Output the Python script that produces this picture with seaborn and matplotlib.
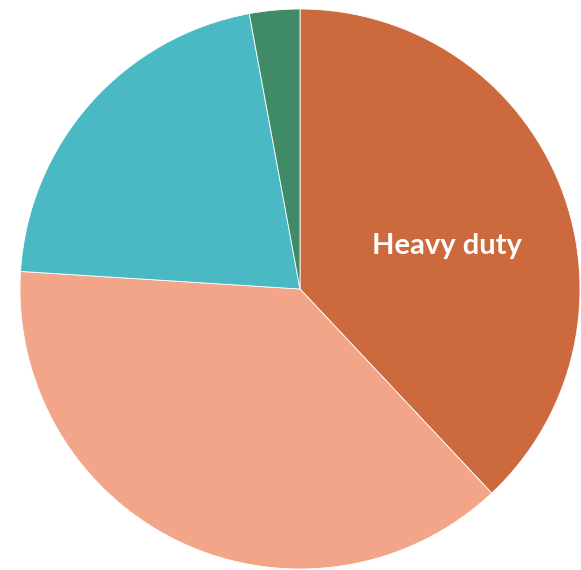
import seaborn as sns
import matplotlib
matplotlib.use("Agg")
from matplotlib import pyplot as plt

# slice data, clockwise from the top
categories = ["Heavy duty", "Light duty", "Medium duty", "Other"]
shares = [38.0, 38.0, 21.1, 2.9]
shown_labels = ["Heavy duty", "", "", ""]
colors = sns.color_palette(["#CD6A3D", "#F2A588", "#4BB9C4", "#3F8B68"])

sns.set_style("white")
plt.rcParams['font.family'] = ['Lato', 'DejaVu Sans']

fig = plt.figure(figsize=(5.81, 5.70), dpi=100)
ax = fig.add_axes([20 / 581, 1 / 570, 560 / 581, 560 / 570])

wedges, _ = ax.pie(shares, colors=colors, startangle=90, counterclock=False,
                   radius=1, wedgeprops={'edgecolor': 'white', 'linewidth': 0.6})

# label only the big orange slice, like the original
ax.text(0.525, 0.154, shown_labels[0], color='white', fontsize=21,
        fontweight='bold', ha='center', va='center')

ax.set_xlim(-1, 1)
ax.set_ylim(-1, 1)
ax.set_aspect('equal')
ax.axis('off')

fig.savefig("out.png", dpi=100)
